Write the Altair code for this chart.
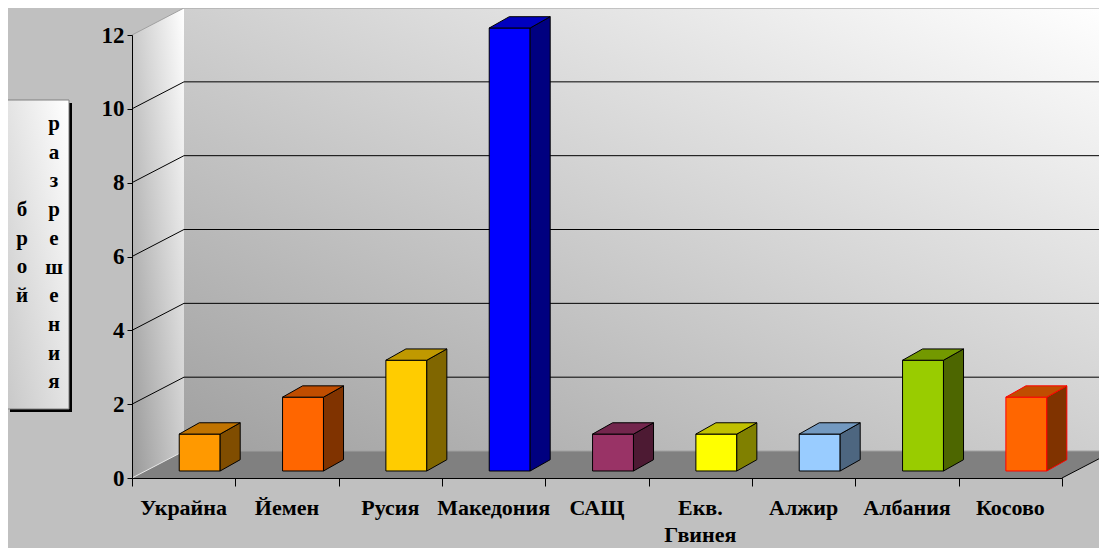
import altair as alt
import pandas as pd

# ---------------- data ----------------
categories = ["Украйна", "Йемен", "Русия", "Македония", "САЩ",
              "Екв.\nГвинея", "Алжир", "Албания", "Косово"]
values = [1, 2, 3, 12, 1, 1, 1, 3, 2]
front_colors = ["#ff9900", "#ff6600", "#ffcc00", "#0000ff", "#993366",
                "#ffff00", "#99ccff", "#99cc00", "#ff6600"]
side_colors = ["#804d00", "#803300", "#806600", "#000080", "#4d1a33",
               "#808000", "#4d6680", "#4d6600", "#803300"]
top_colors = ["#c07300", "#c04d00", "#c09900", "#0000c0", "#73264d",
              "#c0c000", "#7399c0", "#739900", "#c04d00"]
edge_colors = ["#000000"] * 8 + ["#ff0000"]
y_ticks = [0, 2, 4, 6, 8, 10, 12]
title_col_right = "разрешения"
title_col_left = "брой"

# ---------------- geometry (data units) ----------------
N = len(categories)
YMAX = 12
WALL_DX, WALL_DY = 0.503, 0.731
BAR_SHIFT, BAR_HALF, BAR_BASE = 0.155, 0.198, 0.19
BAR_DX, BAR_DY = 0.194, 0.306

FONT = "Liberation Serif"

xs = alt.Scale(domain=[0, N], nice=False, zero=False)
ys = alt.Scale(domain=[0, YMAX], nice=False, zero=False)

# ---------------- tables ----------------
front_rows, side_rows, top_rows = [], [], []
for i, (c, v) in enumerate(zip(categories, values)):
    xl = i + 0.5 + BAR_SHIFT - BAR_HALF
    xr = i + 0.5 + BAR_SHIFT + BAR_HALF
    b, t = BAR_BASE, BAR_BASE + v
    front_rows.append(dict(cat=c, x=xl, x2=xr, y=b, y2=t,
                           fill=front_colors[i], stroke=edge_colors[i]))
    side_rows += [
        dict(cat=c, x=xr, y=b, y2=t, fill=side_colors[i], stroke=edge_colors[i]),
        dict(cat=c, x=xr + BAR_DX, y=b + BAR_DY, y2=t + BAR_DY,
             fill=side_colors[i], stroke=edge_colors[i]),
    ]
    top_rows += [
        dict(cat=c, y=t, x=xl, x2=xr, fill=top_colors[i], stroke=edge_colors[i]),
        dict(cat=c, y=t + BAR_DY, x=xl + BAR_DX, x2=xr + BAR_DX,
             fill=top_colors[i], stroke=edge_colors[i]),
    ]
front_df = pd.DataFrame(front_rows)
side_df = pd.DataFrame(side_rows)
top_df = pd.DataFrame(top_rows)

back_df = pd.DataFrame([dict(x=WALL_DX, x2=N + WALL_DX, y=WALL_DY, y2=YMAX + WALL_DY)])
sidewall_df = pd.DataFrame([dict(x=0, y=0, y2=YMAX),
                            dict(x=WALL_DX, y=WALL_DY, y2=YMAX + WALL_DY)])
floor_df = pd.DataFrame([dict(y=0, x=0, x2=N),
                         dict(y=WALL_DY, x=WALL_DX, x2=N + WALL_DX)])

grid_back = pd.DataFrame([dict(x=WALL_DX, x2=N + WALL_DX, y=v + WALL_DY, y2=v + WALL_DY)
                          for v in y_ticks[1:-1]])
grid_side = pd.DataFrame([dict(x=0, x2=WALL_DX, y=v, y2=v + WALL_DY)
                          for v in y_ticks[1:-1]])
edge_light = pd.DataFrame([
    dict(x=WALL_DX, x2=N + WALL_DX, y=YMAX + WALL_DY, y2=YMAX + WALL_DY),
    dict(x=0, x2=WALL_DX, y=YMAX, y2=YMAX + WALL_DY),
    dict(x=WALL_DX, x2=N + WALL_DX, y=WALL_DY, y2=WALL_DY),
])
floor_left = pd.DataFrame([dict(x=0, x2=WALL_DX, y=0, y2=WALL_DY)])
floor_right = pd.DataFrame([dict(x=N, x2=N + WALL_DX, y=0, y2=WALL_DY)])

label_df = pd.DataFrame(dict(label=categories, x=[i + 0.5 for i in range(N)], y=[0] * N))
one = pd.DataFrame(dict(a=[0]))

# ---------------- layers ----------------
back_grad = alt.Gradient(gradient="linear",
                         stops=[alt.GradientStop(color="#a0a0a0", offset=0),
                                alt.GradientStop(color="#ffffff", offset=1)],
                         x1=0, y1=1, x2=1, y2=0)
side_grad = alt.Gradient(gradient="linear",
                         stops=[alt.GradientStop(color="#999999", offset=0),
                                alt.GradientStop(color="#ffffff", offset=1)],
                         x1=0, y1=1, x2=1, y2=0)
box_grad = alt.Gradient(gradient="linear",
                        stops=[alt.GradientStop(color="#c8c8c8", offset=0),
                               alt.GradientStop(color="#ffffff", offset=1)],
                        x1=0, y1=1, x2=1, y2=0)

back = alt.Chart(back_df).mark_rect(fill=back_grad).encode(
    x=alt.X("x:Q", scale=xs), x2="x2", y=alt.Y("y:Q", scale=ys), y2="y2")

sidewall = alt.Chart(sidewall_df).mark_area(fill=side_grad, orient="vertical").encode(
    x=alt.X("x:Q", scale=xs), y=alt.Y("y:Q", scale=ys, stack=False), y2="y2")

floor = alt.Chart(floor_df).mark_area(fill="#808080", orient="horizontal").encode(
    y=alt.Y("y:Q", scale=ys), x=alt.X("x:Q", scale=xs, stack=False), x2="x2")

def rules(df, color, width=1):
    return alt.Chart(df).mark_rule(color=color, strokeWidth=width).encode(
        x=alt.X("x:Q", scale=xs), x2="x2", y=alt.Y("y:Q", scale=ys), y2="y2")

g1 = rules(grid_back, "#000000")
g2 = rules(grid_side, "#000000")
g3 = rules(edge_light, "#a0a0a0")
g4 = rules(floor_left, "#e8e8e8")
g5 = rules(floor_right, "#000000")

fronts = alt.Chart(front_df).mark_rect(strokeWidth=1).encode(
    x=alt.X("x:Q", scale=xs), x2="x2", y=alt.Y("y:Q", scale=ys), y2="y2",
    fill=alt.Fill("fill:N", scale=None), stroke=alt.Stroke("stroke:N", scale=None))

sides = alt.Chart(side_df).mark_area(orient="vertical", strokeWidth=1).encode(
    x=alt.X("x:Q", scale=xs), y=alt.Y("y:Q", scale=ys, stack=False), y2="y2",
    detail="cat:N",
    fill=alt.Fill("fill:N", scale=None), stroke=alt.Stroke("stroke:N", scale=None))

tops = alt.Chart(top_df).mark_area(orient="horizontal", strokeWidth=1).encode(
    y=alt.Y("y:Q", scale=ys), x=alt.X("x:Q", scale=xs, stack=False), x2="x2",
    detail="cat:N",
    fill=alt.Fill("fill:N", scale=None), stroke=alt.Stroke("stroke:N", scale=None))

axes = alt.Chart(one).mark_point(opacity=0).encode(
    x=alt.X("a:Q", scale=xs, axis=alt.Axis(
        values=list(range(N + 1)), labels=False, title=None, grid=False,
        tickSize=8, tickColor="#000000", domainColor="#000000", zindex=1)),
    y=alt.Y("a:Q", scale=ys, axis=alt.Axis(
        values=y_ticks, title=None, grid=False, tickSize=5, labelPadding=3,
        tickColor="#000000", domainColor="#000000", zindex=1,
        labelFont=FONT, labelFontSize=23, labelFontWeight="bold", labelColor="#000000")))

labels = alt.Chart(label_df).mark_text(
    font=FONT, fontSize=22, fontWeight="bold", color="#000000",
    baseline="alphabetic", align="center", dy=37, lineBreak="\n", lineHeight=27
).encode(x=alt.X("x:Q", scale=xs), y=alt.Y("y:Q", scale=ys), text="label:N")

shadow = alt.Chart(one).mark_rect(fill="#000000").encode(
    x=alt.value(-122), x2=alt.value(-60), y=alt.value(68), y2=alt.value(377))
box = alt.Chart(one).mark_rect(fill=box_grad, stroke="#808080", strokeWidth=1).encode(
    x=alt.value(-125), x2=alt.value(-63), y=alt.value(65), y2=alt.value(374))

title_df = pd.DataFrame(dict(
    t=["\n".join(title_col_right), "\n".join(title_col_left)],
    px=[-78, -110], py=[95, 181]))
title_text = alt.Chart(title_df).mark_text(
    font=FONT, fontSize=21, fontWeight="bold", color="#000000",
    baseline="alphabetic", align="center", lineBreak="\n", lineHeight=28.7
).encode(x=alt.X("px:Q", scale=None), y=alt.Y("py:Q", scale=None), text="t:N")

chart = alt.layer(
    back, sidewall, floor, g1, g2, g3, g4, g5,
    fronts, sides, tops, axes, labels, shadow, box, title_text
).properties(
    width=930, height=443,
    padding={"left": 124, "top": 27, "right": 37, "bottom": 70},
    autosize=alt.AutoSizeParams(type="none"),
    background="#c0c0c0",
).configure_view(strokeWidth=0)

chart.save("out.html", embed_options={"renderer": "svg", "actions": False})
